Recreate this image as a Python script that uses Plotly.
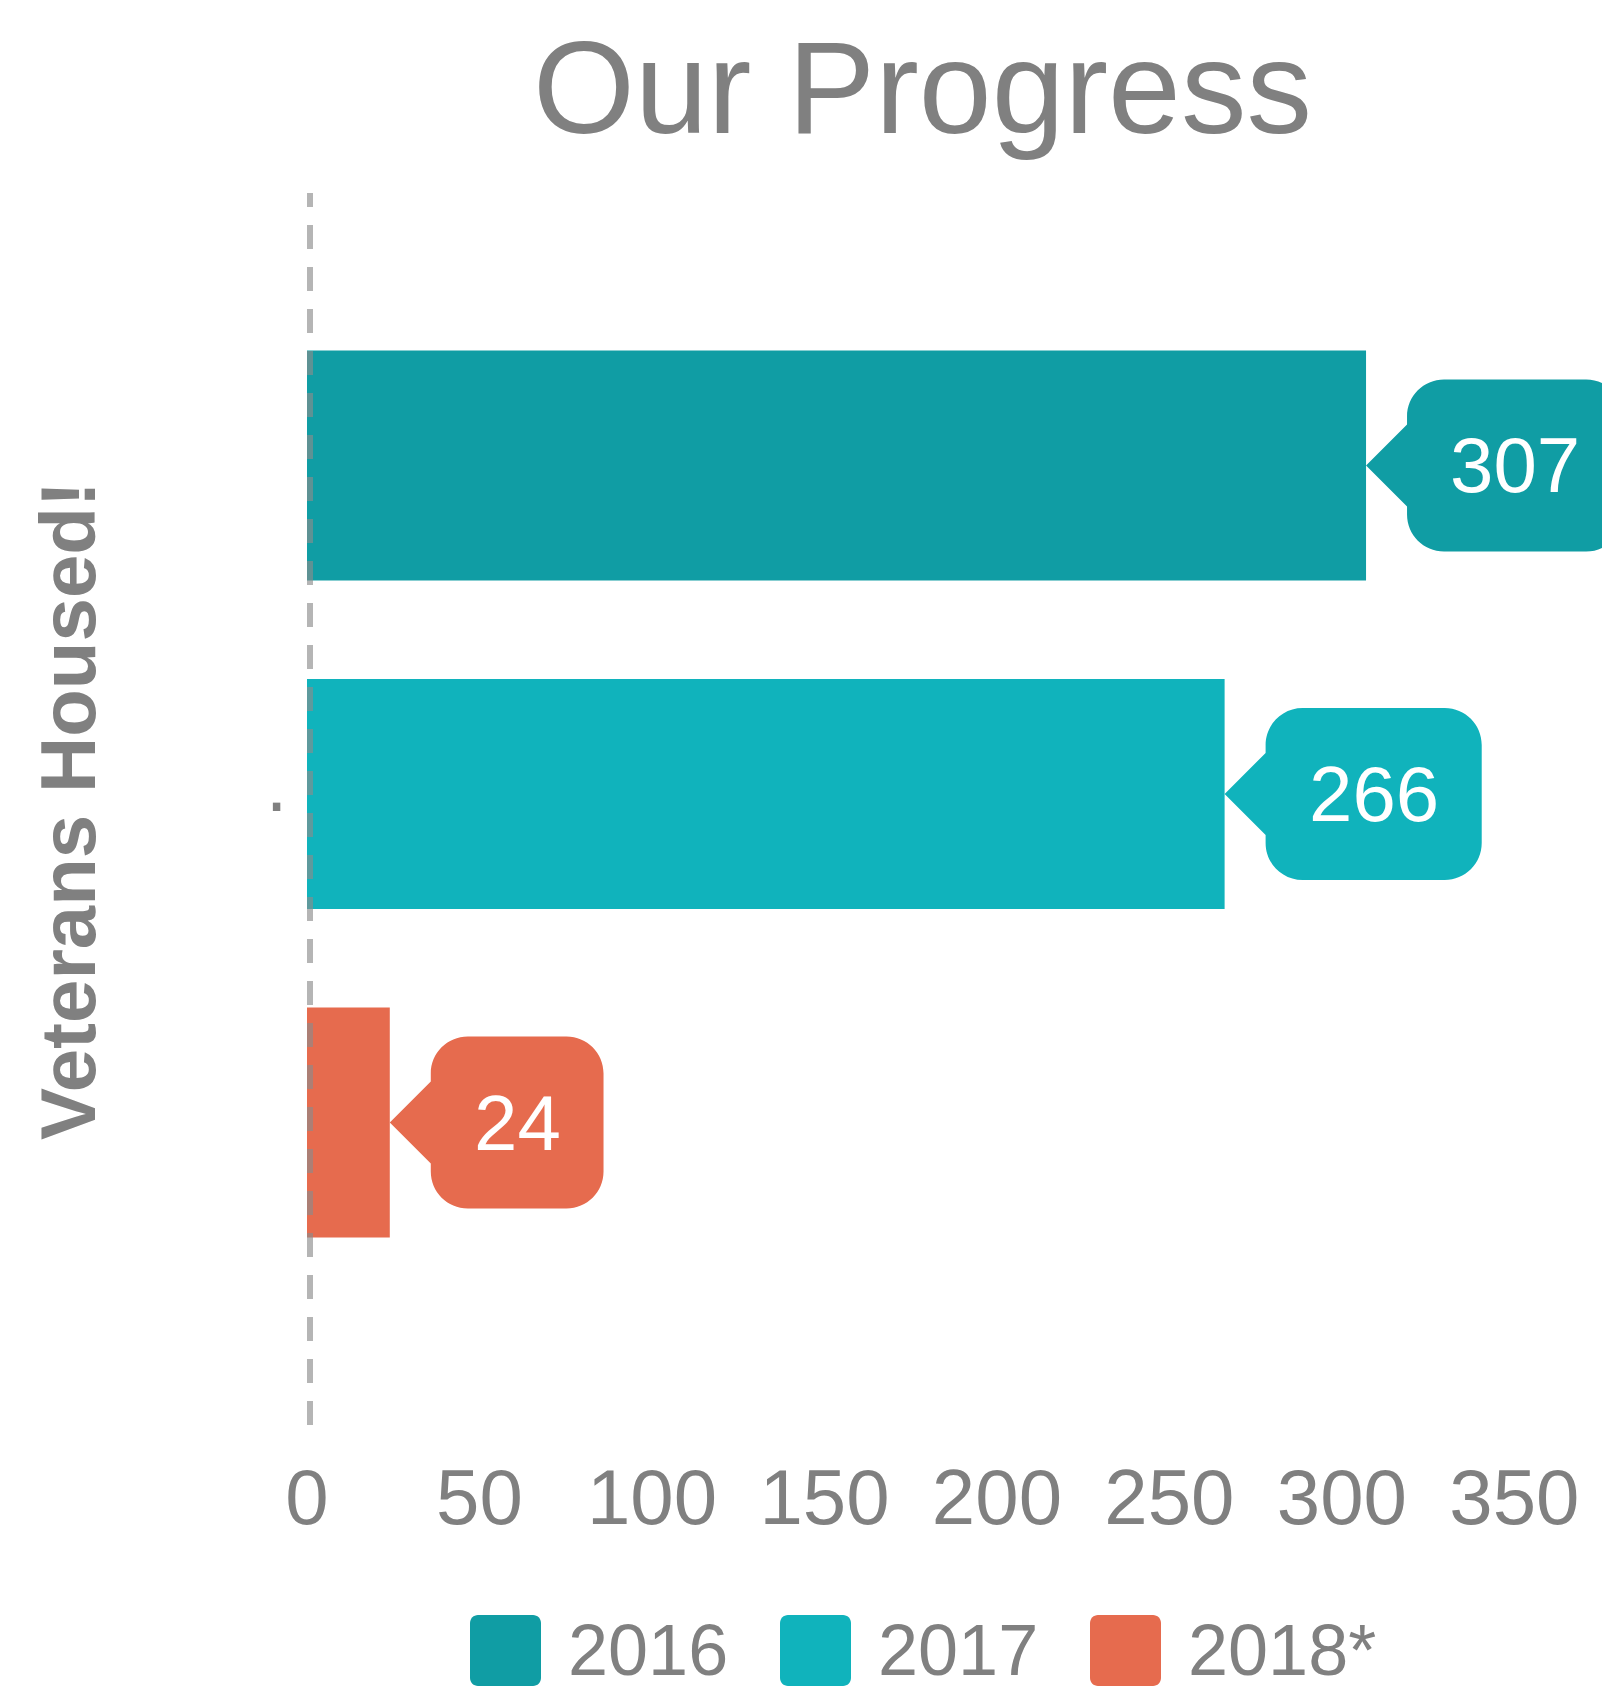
import plotly.graph_objects as go

# ---------------- data ----------------
years = ["2016", "2017", "2018*"]
housed = [307, 266, 24]
colors = ["#109DA4", "#10B3BC", "#E66B4E"]
category = ["."]
x_ticks = [0, 50, 100, 150, 200, 250, 300, 350]
title_text = "Our Progress"
y_title = "Veterans Housed!"

# ---------------- layout constants ----------------
W, H = 1602, 1687
L, R, T, B = 307, 0, 193, 262
pw, ph = W - L - R, H - T - B
x_max = 375.4
bargap, bargroupgap = 0.2, 0.3
y_shift = 0.0122
fs = 78
gray = "#808080"
family = "Arial, 'Liberation Sans', sans-serif"


def px_x(p):
    return (p - L) / pw


def px_y(p):
    return (H - B - p) / ph


def bubble_path(w, h=172, tip=41, r=37):
    k = 0.5523 * r
    x0, x1 = tip, tip + w
    yt, yb = h / 2, -h / 2
    segs = [
        "M0,0", f"L{x0},{tip}", f"L{x0},{yt - r}",
        f"C{x0},{yt - r + k} {x0 + r - k},{yt} {x0 + r},{yt}",
        f"L{x1 - r},{yt}",
        f"C{x1 - r + k},{yt} {x1},{yt - r + k} {x1},{yt - r}",
        f"L{x1},{yb + r}",
        f"C{x1},{yb + r - k} {x1 - r + k},{yb} {x1 - r},{yb}",
        f"L{x0 + r},{yb}",
        f"C{x0 + r - k},{yb} {x0},{yb + r - k} {x0},{yb + r}",
        f"L{x0},{-tip}", "Z",
    ]
    return " ".join(segs)


def rounded_rect(w, h, r=8):
    k = 0.5523 * r
    segs = [
        f"M{r},0", f"L{w - r},0", f"C{w - r + k},0 {w},{-r + k} {w},{-r}",
        f"L{w},{-h + r}", f"C{w},{-h + r - k} {w - r + k},{-h} {w - r},{-h}",
        f"L{r},{-h}", f"C{r - k},{-h} 0,{-h + r - k} 0,{-h + r}",
        f"L0,{-r}", f"C0,{-r + k} {r - k},0 {r},0", "Z",
    ]
    return " ".join(segs)


fig = go.Figure()
for name, val, col in zip(years, housed, colors):
    fig.add_trace(go.Bar(
        y=category, x=[val], name=name, orientation="h",
        marker=dict(color=col, line=dict(width=0)),
        showlegend=False, hovertemplate=name + ": %{x}<extra></extra>",
    ))

shapes = []
annotations = []

# dashed reference line at zero
shapes.append(dict(
    type="line", xref="x", xsizemode="pixel", xanchor=0, x0=3, x1=3,
    yref="paper", y0=0, y1=1,
    line=dict(color="rgba(139,139,139,0.64)", width=6, dash="24px,18px"),
    layer="above",
))

# value bubbles
n = len(years)
slot = (1 - bargap) / n
for i, (name, val, col) in enumerate(zip(years, housed, colors)):
    yc = -(1 - bargap) / 2 + (i + 0.5) * slot
    label = str(val)
    w = len(label) * 0.556 * fs + 86
    shapes.append(dict(
        type="path", xref="x", yref="y",
        xsizemode="pixel", ysizemode="pixel", xanchor=val, yanchor=yc,
        path=bubble_path(w), fillcolor=col, line=dict(width=0), layer="above",
    ))
    annotations.append(dict(
        x=val, y=yc, xref="x", yref="y", text=label, showarrow=False,
        xanchor="center", yanchor="middle", xshift=41 + w / 2,
        font=dict(family=family, size=fs, color="white"),
    ))

# manual legend
for i, (name, col) in enumerate(zip(years, colors)):
    sx = 470 + i * 310
    shapes.append(dict(
        type="path", xref="paper", yref="paper",
        xsizemode="pixel", ysizemode="pixel",
        xanchor=px_x(sx), yanchor=px_y(1615),
        path=rounded_rect(71, 71), fillcolor=col, line=dict(width=0),
    ))
    annotations.append(dict(
        x=px_x(sx + 96), y=px_y(1650.5), xref="paper", yref="paper",
        text=name, showarrow=False, xanchor="left", yanchor="middle",
        font=dict(family=family, size=72, color=gray),
    ))

# y axis title
annotations.append(dict(
    x=px_x(68), y=px_y(811), xref="paper", yref="paper",
    text="<b>" + y_title + "</b>", showarrow=False, textangle=-90,
    xanchor="center", yanchor="middle",
    font=dict(family=family, size=fs, color=gray),
))

fig.update_layout(
    width=W, height=H,
    margin=dict(l=L, r=R, t=T, b=B, pad=0),
    paper_bgcolor="white", plot_bgcolor="white",
    barmode="group", bargap=bargap, bargroupgap=bargroupgap,
    showlegend=False,
    title=dict(
        text=title_text, x=922.5 / W, xanchor="center", xref="container",
        y=1 - 41 / H, yanchor="top", yref="container",
        font=dict(family=family, size=131, color=gray),
    ),
    xaxis=dict(
        range=[0, x_max], tickvals=x_ticks, showgrid=False, zeroline=False,
        showline=False, ticks="outside", ticklen=4,
        tickcolor="rgba(0,0,0,0)", automargin=False,
        tickfont=dict(family=family, size=fs, color=gray),
    ),
    yaxis=dict(
        type="category", range=[0.5 + y_shift, -0.5 + y_shift],
        showgrid=False, zeroline=False, showline=False,
        ticks="outside", ticklen=3, tickcolor="rgba(0,0,0,0)",
        ticklabelshift=10,
        automargin=False,
        tickfont=dict(family=family, size=fs, color=gray),
    ),
    shapes=shapes, annotations=annotations,
    font=dict(family=family, color=gray),
)

fig.write_html(
    "out.html",
    config={"displayModeBar": False},
    post_script="document.body.style.margin='0px';",
)
